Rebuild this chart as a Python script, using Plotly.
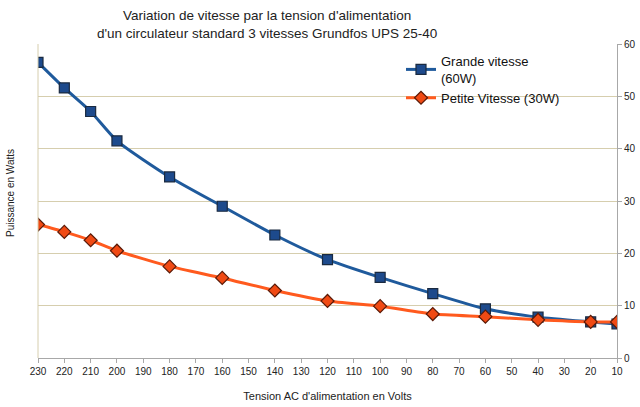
import plotly.graph_objects as go

voltages = [230, 220, 210, 200, 180, 160, 140, 120, 100, 80, 60, 40, 20, 10]
grande_vitesse = [56.5, 51.6, 47.1, 41.5, 34.6, 29.0, 23.5, 18.8, 15.4, 12.3, 9.4, 7.8, 6.9, 6.5]
petite_vitesse = [25.5, 24.1, 22.5, 20.5, 17.5, 15.3, 12.9, 10.9, 9.9, 8.4, 7.9, 7.3, 6.9, 6.9]
x_ticks = list(range(230, 0, -10))
y_ticks = [0, 10, 20, 30, 40, 50, 60]

FONT = "Liberation Sans, Arial, sans-serif"

W, H = 640, 407
# plot area in window pixels
PL, PR, PT, PB = 38, 617, 44, 358
l, r, t, b = PL, W - PR, PT, H - PB

def px2paper(px, py):
    return (px - PL) / (PR - PL), (PB - py) / (PB - PT)

fig = go.Figure()
fig.add_trace(go.Scatter(
    x=voltages, y=grande_vitesse, mode="lines+markers",
    name="Grande vitesse<br>(60W)",
    line=dict(color="#1f5a9c", width=3, shape="spline", smoothing=0.6),
    marker=dict(symbol="square", size=10, color="#1d4a8c", line=dict(color="#1a2a40", width=1.2)),
))
fig.add_trace(go.Scatter(
    x=voltages, y=petite_vitesse, mode="lines+markers",
    name="Petite Vitesse (30W)",
    line=dict(color="#ff5a1e", width=3, shape="spline", smoothing=0.6),
    marker=dict(symbol="diamond", size=10, color="#f04a14", line=dict(color="#5a1a08", width=1.2)),
))

lx, ly = px2paper(401, 46)
tx, ty = px2paper(267, 24)
ax_, ay_ = px2paper(10, 193)

fig.update_layout(
    width=W, height=H,
    margin=dict(l=l, r=r, t=t, b=b, autoexpand=False),
    paper_bgcolor="white", plot_bgcolor="white",
    font=dict(family=FONT, size=11, color="#222"),
    showlegend=True,
    legend=dict(x=lx, y=ly, xanchor="left", yanchor="top",
                bgcolor="rgba(0,0,0,0)", font=dict(size=13, color="#111"),
                tracegroupgap=0, itemwidth=30),
    xaxis=dict(
        range=[230, 10], tickmode="array", tickvals=x_ticks,
        ticktext=[str(v) for v in x_ticks], automargin=False,
        showgrid=False, zeroline=False,
        showline=True, linecolor="#a8a8a8", linewidth=1,
        ticks="outside", ticklen=4, tickcolor="#a8a8a8",
        tickfont=dict(size=10, color="#222"),
        title=dict(text="Tension AC d'alimentation en Volts", font=dict(size=11, color="#222"), standoff=16),
    ),
    yaxis=dict(
        range=[0, 60], side="right", tickvals=y_ticks, automargin=False,
        showgrid=True, gridcolor="#d6ceae", gridwidth=1,
        zeroline=False, showline=True, linecolor="#a8a8a8", linewidth=1,
        ticks="outside", ticklen=4, tickcolor="#a8a8a8",
        tickfont=dict(size=10, color="#222"),
    ),
    annotations=[
        dict(text="Variation de vitesse par la tension d'alimentation<br>d'un circulateur standard 3 vitesses Grundfos UPS 25-40",
             x=tx, y=ty, xref="paper", yref="paper", showarrow=False,
             xanchor="center", yanchor="middle",
             font=dict(size=13.5, color="#222")),
        dict(text="Puissance en Watts", textangle=-90, x=ax_, y=ay_,
             xref="paper", yref="paper", xanchor="center", yanchor="middle",
             showarrow=False, font=dict(size=10, color="#222")),
    ],
    shapes=[
        dict(type="line", xref="paper", yref="paper", x0=0, x1=0, y0=0, y1=1,
             line=dict(color="#d6ceae", width=1)),
    ],
)

fig.write_html(
    "out.html",
    config={"displayModeBar": False},
    post_script="document.body.style.margin='0';document.body.style.overflow='hidden';",
)
